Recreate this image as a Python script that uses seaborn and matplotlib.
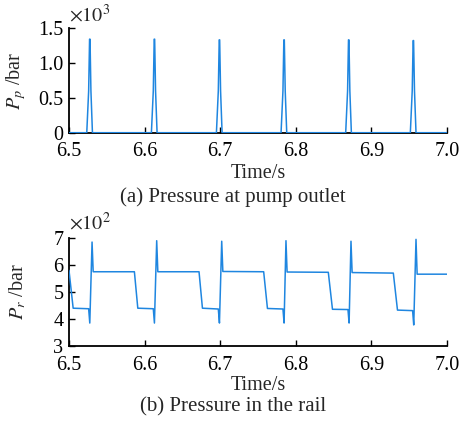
import numpy as np
import pandas as pd
import matplotlib
matplotlib.use("Agg")
import matplotlib.pyplot as plt
import seaborn as sns

# ---- data ----
# pump outlet pressure (x10^3 bar)
pump_t = [6.500, 6.5235, 6.5260, 6.5272, 6.5278, 6.5290, 6.5310,
          6.6090, 6.6115, 6.6127, 6.6133, 6.6145, 6.6165,
          6.6950, 6.6975, 6.6987, 6.6993, 6.7005, 6.7025,
          6.7805, 6.7830, 6.7842, 6.7848, 6.7860, 6.7880,
          6.8660, 6.8685, 6.8697, 6.8703, 6.8715, 6.8735,
          6.9515, 6.9540, 6.9552, 6.9558, 6.9570, 6.9590, 7.000]
pump_p = [0.0, 0.0, 0.60, 1.34, 1.34, 0.60, 0.0,
          0.0, 0.60, 1.34, 1.34, 0.60, 0.0,
          0.0, 0.60, 1.33, 1.33, 0.60, 0.0,
          0.0, 0.60, 1.33, 1.33, 0.60, 0.0,
          0.0, 0.60, 1.33, 1.33, 0.60, 0.0,
          0.0, 0.60, 1.32, 1.32, 0.60, 0.0, 0.0]

# rail pressure (x10^2 bar)
rail_t = [6.5000, 6.5055, 6.5260, 6.5275, 6.5305, 6.5320,
          6.5865, 6.5910, 6.6115, 6.6130, 6.6160, 6.6175,
          6.6720, 6.6765, 6.6975, 6.6990, 6.7020, 6.7035,
          6.7575, 6.7625, 6.7830, 6.7845, 6.7870, 6.7885,
          6.8430, 6.8485, 6.8690, 6.8705, 6.8730, 6.8745,
          6.9290, 6.9345, 6.9545, 6.9560, 6.9590, 6.9605, 7.0000]
rail_p = [5.80, 4.40, 4.38, 3.85, 6.85, 5.75,
          5.75, 4.40, 4.38, 3.85, 6.90, 5.75,
          5.75, 4.40, 4.37, 3.85, 6.88, 5.76,
          5.75, 4.39, 4.37, 3.85, 6.90, 5.74,
          5.73, 4.36, 4.35, 3.85, 6.88, 5.72,
          5.70, 4.33, 4.31, 3.78, 6.95, 5.66, 5.66]

x_ticks = [6.5, 6.6, 6.7, 6.8, 6.9, 7.0]
x_labels = ["6.5", "6.6", "6.7", "6.8", "6.9", "7.0"]
top_yticks = [0, 0.5, 1.0, 1.5]
top_ylabels = ["0", "0.5", "1.0", "1.5"]
bot_yticks = [3, 4, 5, 6, 7]
bot_ylabels = ["3", "4", "5", "6", "7"]

sns.set_style("ticks")
plt.rcParams["font.family"] = ["Liberation Serif", "DejaVu Serif"]
plt.rcParams["mathtext.fontset"] = "stix"

color = "#1f86e0"
fs = 14.5
W, H = 461, 423

fig = plt.figure(figsize=(W / 100, H / 100), dpi=100)
# axes boxes in pixels: left, top, right, bottom
boxes = [(69, 28, 447, 132.7), (69, 238, 447, 346)]
axes = []
for (l, t, r, b) in boxes:
    axes.append(fig.add_axes([l / W, 1 - b / H, (r - l) / W, (b - t) / H]))
ax1, ax2 = axes

df1 = pd.DataFrame({"t": pump_t, "p": pump_p})
df2 = pd.DataFrame({"t": rail_t, "p": rail_p})
sns.lineplot(data=df1, x="t", y="p", ax=ax1, color=color, linewidth=1.1, zorder=1)
sns.lineplot(data=df2, x="t", y="p", ax=ax2, color=color, linewidth=1.1)

specs = [
    (ax1, boxes[0], top_yticks, top_ylabels, (0, 1.5), r"$P_p$ /bar", r"$\times10^3$", 4.3, 174),
    (ax2, boxes[1], bot_yticks, bot_ylabels, (3, 7), r"$P_r$ /bar", r"$\times10^2$", 5.8, 385),
]
for ax, (l, t, r, b), yt, yl, ylim, ylab, mult, moff, xlab_y in specs:
    ax.set_xlim(6.5, 7.0)
    ax.set_ylim(*ylim)
    ax.set_xticks(x_ticks)
    ax.set_xticklabels(x_labels, fontsize=fs)
    ax.set_yticks(yt)
    ax.set_yticklabels(yl, fontsize=fs)
    ax.tick_params(direction="in", length=4, width=1.0, colors="black")
    ax.tick_params(axis="x", pad=7)
    ax.tick_params(axis="y", pad=4)
    for s in ["top", "right"]:
        ax.spines[s].set_visible(False)
    for s in ["left", "bottom"]:
        ax.spines[s].set_linewidth(1.3)
        ax.spines[s].set_color("black")
        ax.spines[s].set_zorder(0.5)
    hpx = b - t
    wpx = r - l
    ax.set_xlabel("Time/s", fontsize=fs)
    ax.xaxis.label.set_va("center")
    ax.xaxis.set_label_coords(0.5, -(xlab_y - b) / hpx)
    ax.set_ylabel(ylab, fontsize=fs)
    ax.yaxis.set_label_coords(-(l - 28) / wpx, 0.5)
    ax.annotate(mult, xy=(0.0, 1.0), xycoords="axes fraction",
                xytext=(0, moff), textcoords="offset points",
                fontsize=fs, ha="left", va="baseline")

fig.text(233 / W, 1 - 197 / H, "(a) Pressure at pump outlet", fontsize=15,
         ha="center", va="center")
fig.text(233 / W, 1 - 407 / H, "(b) Pressure in the rail", fontsize=15,
         ha="center", va="center")

fig.savefig("out.png", dpi=100)
